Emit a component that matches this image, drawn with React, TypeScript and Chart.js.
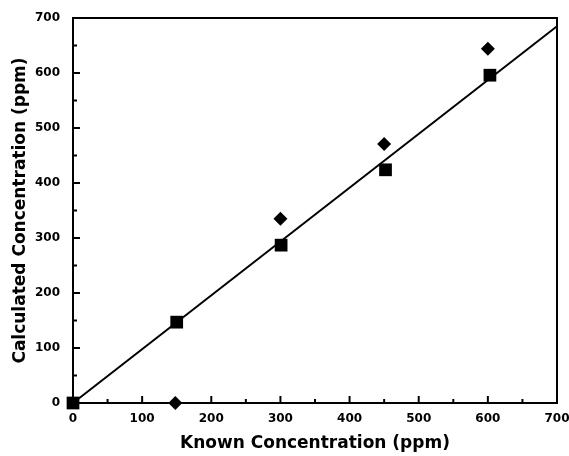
import React, { useEffect, useRef } from "react";
import { Chart, registerables } from "chart.js";

Chart.register(...registerables);

// Data
const squareX = [0, 150, 301, 452, 603];
const squareY = [0, 147, 287, 424, 596];
const diamondX = [148, 300, 450, 600];
const diamondY = [0, 335, 471, 644];
const fitX = [0, 700];
const fitY = [0, 685];
const majorTicks = [100, 200, 300, 400, 500, 600];
const minorTicks = [50, 150, 250, 350, 450, 550, 650];
const axisMin = 0;
const axisMax = 700;
const xTitle = "Known Concentration (ppm)";
const yTitle = "Calculated Concentration (ppm)";

const FONT = "'DejaVu Sans', sans-serif";

const frameTicks = {
  id: "frameTicks",
  afterDatasetsDraw(chart: any) {
    const { ctx, chartArea, scales } = chart;
    const { left, right, top, bottom } = chartArea;
    ctx.save();
    ctx.strokeStyle = "#000";
    ctx.lineCap = "square";
    ctx.lineWidth = 2;
    ctx.beginPath();
    ctx.rect(left, top, right - left, bottom - top);
    ctx.stroke();
    ctx.lineCap = "butt";
    const draw = (vals: number[], len: number) => {
      vals.forEach((v) => {
        const px = scales.x.getPixelForValue(v);
        ctx.beginPath();
        ctx.moveTo(px, bottom);
        ctx.lineTo(px, bottom - len);
        ctx.stroke();
        const py = scales.y.getPixelForValue(v);
        ctx.beginPath();
        ctx.moveTo(left, py);
        ctx.lineTo(left + len, py);
        ctx.stroke();
      });
    };
    draw(majorTicks, 7);
    draw(minorTicks, 4);
    ctx.restore();
  },
};

export default function App() {
  const ref = useRef<HTMLCanvasElement>(null);
  useEffect(() => {
    document.body.style.margin = "0";
    const chart = new Chart(ref.current!, {
      type: "scatter",
      data: {
        datasets: [
          {
            type: "line",
            data: fitX.map((x, i) => ({ x, y: fitY[i] })),
            borderColor: "#000",
            borderWidth: 2,
            pointRadius: 0,
            fill: false,
            clip: false as any,
          },
          {
            data: squareX.map((x, i) => ({ x, y: squareY[i] })),
            pointStyle: "rect",
            pointRadius: 9,
            backgroundColor: "#000",
            borderColor: "#000",
            borderWidth: 0,
            clip: false as any,
          },
          {
            data: diamondX.map((x, i) => ({ x, y: diamondY[i] })),
            pointStyle: "rectRot",
            pointRadius: 7,
            backgroundColor: "#000",
            borderColor: "#000",
            borderWidth: 0,
            clip: false as any,
          },
        ] as any,
      },
      options: {
        animation: false,
        responsive: false,
        layout: { padding: { top: 18, right: 12, left: 0, bottom: 0 } },
        plugins: { legend: { display: false }, tooltip: { enabled: false } },
        scales: {
          x: {
            type: "linear",
            min: axisMin,
            max: axisMax,
            grid: { display: false, drawTicks: false },
            border: { display: false },
            ticks: {
              stepSize: 100,
              color: "#000",
              padding: 9,
              font: { family: FONT, weight: "bold", size: 12 },
            },
            title: {
              display: true,
              text: xTitle,
              color: "#000",
              padding: { top: 0, bottom: 2 },
              font: { family: FONT, weight: "bold", size: 17 },
            },
            afterFit: (s: any) => {
              s.height = 53;
              s.paddingLeft = 0;
              s.paddingRight = 0;
            },
          },
          y: {
            type: "linear",
            min: axisMin,
            max: axisMax,
            grid: { display: false, drawTicks: false },
            border: { display: false },
            ticks: {
              stepSize: 100,
              color: "#000",
              padding: 13,
              font: { family: FONT, weight: "bold", size: 12 },
            },
            title: {
              display: true,
              text: yTitle,
              color: "#000",
              padding: { top: 10, bottom: 0 },
              font: { family: FONT, weight: "bold", size: 17 },
            },
            afterFit: (s: any) => {
              s.width = 73;
              s.paddingTop = 0;
              s.paddingBottom = 0;
            },
          },
        },
      },
      plugins: [frameTicks],
    });
    return () => chart.destroy();
  }, []);
  return (
    <div style={{ width: 569, height: 456, background: "#fff" }}>
      <canvas ref={ref} width={569} height={456} style={{ display: "block" }} />
    </div>
  );
}
